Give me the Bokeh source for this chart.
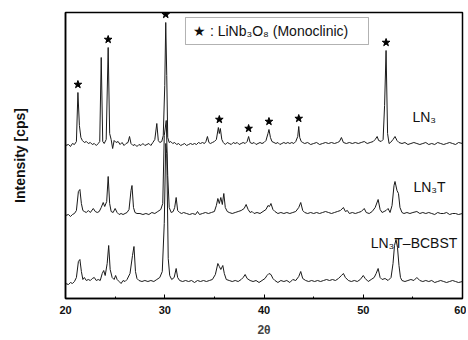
from bokeh.plotting import figure
from bokeh.models import Label, BoxAnnotation, FixedTicker
from bokeh.embed import file_html
from bokeh.resources import INLINE

# --- data: (2theta, intensity above own baseline) ---
ln3 = [(20.0,0),(20.3,1),(20.5,-1),(20.7,2),(20.9,1),(21.1,4),(21.25,53),(21.4,20),(21.55,8),(21.7,5),
       (21.9,3),(22.1,4),(22.3,2),(22.5,3),(22.7,1),(22.9,2),(23.1,0),(23.3,2),(23.45,4),(23.6,88),
       (23.75,4),(23.9,2),(24.1,6),(24.3,98),(24.45,12),(24.6,6),(24.75,-3),(24.9,5),(25.1,3),(25.3,4),
       (25.5,1),(25.7,3),(25.9,0),(26.1,2),(26.3,3),(26.45,9),(26.6,2),(26.8,0),(27.0,1),(27.2,-1),
       (27.4,1),(27.6,0),(27.8,2),(28.0,0),(28.2,1),(28.4,2),(28.6,0),(28.8,3),(29.0,6),(29.2,22),
       (29.35,5),(29.5,3),(29.7,4),(29.85,10),(30.0,60),(30.1,123),(30.2,70),(30.3,8),(30.45,3),(30.6,4),
       (30.8,2),(31.0,3),(31.2,1),(31.4,2),(31.6,0),(31.8,1),(32.0,2),(32.2,0),(32.4,1),(32.6,2),
       (32.8,1),(33.0,2),(33.2,1),(33.4,3),(33.6,2),(33.8,3),(34.0,2),(34.15,4),(34.3,9),(34.45,3),
       (34.6,2),(34.8,3),(35.0,4),(35.2,6),(35.4,18),(35.5,12),(35.6,17),(35.75,6),(35.9,3),(36.1,1),
       (36.3,3),(36.5,2),(36.7,1),(36.9,3),(37.1,2),(37.3,3),(37.5,1),(37.7,2),(37.9,3),(38.1,2),
       (38.3,4),(38.45,9),(38.6,3),(38.8,2),(39.0,3),(39.2,1),(39.4,2),(39.6,3),(39.8,2),(40.0,3),
       (40.2,5),(40.4,12),(40.5,16),(40.65,8),(40.8,4),(41.0,3),(41.2,2),(41.4,3),(41.6,1),(41.8,2),
       (42.0,3),(42.2,2),(42.4,3),(42.6,2),(42.8,3),(43.0,2),(43.2,4),(43.4,9),(43.5,19),(43.6,8),
       (43.75,4),(43.9,3),(44.1,2),(44.4,3),(44.7,1),(45.0,2),(45.3,3),(45.6,1),(45.9,2),(46.2,3),
       (46.5,2),(46.8,3),(47.1,2),(47.4,3),(47.6,4),(47.8,8),(48.0,3),(48.3,2),(48.6,3),(48.9,2),
       (49.2,3),(49.5,2),(49.8,3),(50.1,4),(50.4,2),(50.7,3),(51.0,4),(51.2,6),(51.4,9),(51.55,5),
       (51.8,4),(52.0,6),(52.15,40),(52.3,95),(52.45,12),(52.6,2),(52.75,3),(53.0,6),(53.2,9),(53.4,5),
       (53.6,3),(53.9,2),(54.2,3),(54.5,1),(54.8,2),(55.1,3),(55.4,2),(55.7,1),(56.0,2),(56.3,3),
       (56.6,1),(56.9,2),(57.2,1),(57.5,3),(57.8,2),(58.1,1),(58.4,2),(58.7,3),(59.0,2),(59.3,1),
       (59.6,3),(60.0,2)]

ln3t = [(20.0,0),(20.3,1),(20.5,-1),(20.7,1),(20.9,2),(21.1,5),(21.3,24),(21.45,26),(21.6,12),(21.75,5),
        (21.9,4),(22.1,3),(22.3,5),(22.5,3),(22.8,7),(23.0,4),(23.2,3),(23.4,4),(23.6,8),(23.8,13),
        (23.95,9),(24.15,14),(24.3,39),(24.45,12),(24.6,4),(24.8,3),(25.0,7),(25.2,3),(25.4,1),(25.6,2),
        (25.8,1),(26.0,2),(26.2,3),(26.4,6),(26.6,25),(26.7,30),(26.85,8),(27.0,3),(27.2,2),(27.5,2),
        (27.8,1),(28.1,2),(28.4,1),(28.7,3),(29.0,2),(29.3,4),(29.6,6),(29.8,12),(29.95,80),(30.15,95),
        (30.3,40),(30.45,8),(30.65,3),(30.85,4),(31.0,8),(31.15,18),(31.3,5),(31.5,3),(31.7,2),(31.9,3),
        (32.2,2),(32.5,1),(32.8,2),(33.1,1),(33.3,4),(33.5,1),(33.8,2),(34.1,3),(34.4,2),(34.7,3),
        (35.0,4),(35.2,10),(35.35,17),(35.5,12),(35.65,18),(35.8,11),(35.95,22),(36.1,8),(36.3,4),(36.5,3),
        (36.8,2),(37.1,3),(37.4,4),(37.7,5),(38.0,7),(38.2,11),(38.4,6),(38.6,3),(38.8,4),(39.0,2),
        (39.3,3),(39.6,2),(39.9,4),(40.2,6),(40.4,10),(40.55,9),(40.7,12),(40.9,6),(41.1,4),(41.4,2),
        (41.7,3),(42.0,2),(42.3,3),(42.6,2),(42.9,3),(43.2,4),(43.5,8),(43.7,13),(43.9,5),(44.1,3),
        (44.4,2),(44.7,3),(45.0,2),(45.3,3),(45.6,2),(45.9,3),(46.2,4),(46.5,3),(46.8,2),(47.1,3),
        (47.4,4),(47.7,5),(48.0,8),(48.2,4),(48.4,5),(48.6,2),(48.9,3),(49.2,2),(49.5,3),(49.8,4),
        (50.1,7),(50.3,3),(50.6,2),(50.9,4),(51.2,8),(51.5,16),(51.7,6),(51.9,3),(52.1,4),(52.3,5),
        (52.5,7),(52.7,3),(52.9,10),(53.1,30),(53.2,34),(53.4,25),(53.55,22),(53.7,8),(53.9,3),(54.1,2),
        (54.4,3),(54.7,2),(55.0,3),(55.4,4),(55.7,2),(56.0,3),(56.3,2),(56.6,3),(56.9,2),(57.2,1),
        (57.5,3),(57.8,2),(58.1,2),(58.4,3),(58.7,1),(59.0,2),(59.3,2),(59.6,1),(60.0,2)]

ln3t_bcbst = [(20.0,0),(20.3,-1),(20.5,1),(20.7,0),(20.9,2),(21.1,6),(21.3,22),(21.45,24),(21.6,12),(21.75,4),
              (21.9,6),(22.1,3),(22.3,4),(22.5,3),(22.7,5),(22.9,6),(23.1,3),(23.3,4),(23.5,3),(23.7,10),
              (23.85,13),(24.0,8),(24.2,20),(24.35,38),(24.5,14),(24.7,6),(24.9,4),(25.05,8),(25.2,4),(25.4,2),
              (25.6,0),(25.8,3),(26.0,2),(26.2,4),(26.5,10),(26.75,28),(26.9,37),(27.05,12),(27.2,5),(27.4,3),
              (27.7,2),(28.0,3),(28.3,2),(28.6,3),(28.9,2),(29.2,4),(29.5,6),(29.75,12),(29.95,60),(30.1,140),
              (30.2,130),(30.35,25),(30.5,8),(30.7,4),(30.95,6),(31.15,15),(31.3,6),(31.5,3),(31.8,2),(32.1,3),
              (32.4,2),(32.7,3),(33.0,1),(33.3,3),(33.6,2),(33.9,3),(34.2,2),(34.5,3),(34.8,4),(35.1,9),
              (35.35,20),(35.5,17),(35.65,14),(35.85,18),(36.0,10),(36.2,4),(36.5,3),(36.8,2),(37.1,3),(37.4,2),
              (37.7,4),(37.9,6),(38.1,9),(38.3,5),(38.6,3),(38.9,2),(39.2,3),(39.5,1),(39.8,3),(40.1,5),
              (40.3,8),(40.5,10),(40.7,9),(40.9,5),(41.1,3),(41.4,1),(41.7,3),(42.0,2),(42.3,3),(42.6,1),
              (42.9,4),(43.2,3),(43.5,7),(43.7,12),(43.9,5),(44.2,3),(44.5,2),(44.8,3),(45.1,2),(45.4,3),
              (45.7,2),(46.0,3),(46.3,4),(46.6,3),(46.9,4),(47.2,3),(47.5,5),(47.8,8),(48.0,10),(48.2,6),
              (48.5,3),(48.8,2),(49.1,3),(49.4,2),(49.7,4),(50.0,8),(50.2,5),(50.5,2),(50.8,4),(51.1,6),
              (51.3,10),(51.5,15),(51.7,6),(51.9,4),(52.2,5),(52.5,3),(52.8,6),(53.0,20),(53.15,38),(53.3,44),
              (53.45,36),(53.6,18),(53.75,6),(53.9,3),(54.2,2),(54.5,3),(54.8,4),(55.1,3),(55.4,6),(55.7,3),
              (56.0,2),(56.3,3),(56.6,2),(56.9,3),(57.2,1),(57.5,2),(57.8,3),(58.1,2),(58.4,1),(58.7,2),
              (59.0,3),(59.3,2),(59.6,1),(60.0,2)]

series_names = ["LN₃", "LN₃T", "LN₃T–BCBST"]
series_offsets = [153, 83, 15]
star_positions = [21.25, 24.3, 30.1, 35.5, 38.45, 40.5, 43.5, 52.3]  # LiNb3O8 peaks
x_ticks = [20, 30, 40, 50, 60]

FONT = "Liberation Sans"

p = figure(frame_width=397, frame_height=286, x_range=(20, 60), y_range=(0, 286),
           min_border_left=65, min_border_right=4, min_border_top=12, min_border_bottom=40,
           output_backend="svg", toolbar_location=None, tools="")
p.grid.visible = False
p.outline_line_color = "black"
p.outline_line_width = 1.5
p.background_fill_color = "white"
p.border_fill_color = "white"

xa = p.xaxis[0]
xa.ticker = FixedTicker(ticks=x_ticks, minor_ticks=[25, 35, 45, 55])
xa.major_tick_in = 4
xa.major_tick_out = 0
xa.minor_tick_in = 2
xa.minor_tick_out = 0
xa.axis_line_color = "black"
xa.axis_line_width = 1.5
xa.major_label_text_font = FONT
xa.major_label_text_font_size = "11px"
xa.major_label_text_font_style = "bold"
xa.major_label_text_color = "#111"
xa.major_label_standoff = 7
xa.axis_label = "2θ"
xa.axis_label_text_font = FONT
xa.axis_label_text_font_size = "12px"
xa.axis_label_text_font_style = "bold"
xa.axis_label_standoff = 6

ya = p.yaxis[0]
ya.ticker = FixedTicker(ticks=[])
ya.major_tick_out = 0
ya.major_tick_in = 0
ya.minor_tick_out = 0
ya.minor_tick_in = 0
ya.axis_line_color = "black"
ya.axis_line_width = 1.5
ya.axis_label = "Intensity [cps]"
ya.axis_label_text_font = FONT
ya.axis_label_text_font_size = "14px"
ya.axis_label_text_font_style = "bold"
ya.axis_label_text_color = "#111"
ya.axis_label_standoff = 38

datasets = [ln3, ln3t, ln3t_bcbst]
for data, off in zip(datasets, series_offsets):
    xs = [d[0] for d in data]
    ys = [d[1] + off for d in data]
    p.line(xs, ys, line_color="#1a1a1a", line_width=1)

# stars above LiNb3O8 peaks of LN3
sx, sy = [], []
for t in star_positions:
    peak = max(v for (tt, v) in ln3 if abs(tt - t) <= 0.2)
    sx.append(t)
    sy.append(peak + series_offsets[0] + 8)
p.scatter(sx, sy, marker="star", size=8, fill_color="black", line_color="black")

# series labels
label_pos = [(54.95, 182), (55.06, 112), (50.75, 56)]
for name, (lx, ly) in zip(series_names, label_pos):
    p.add_layout(Label(x=lx, y=ly, text=name, text_font=FONT, text_font_size="14px",
                       text_color="#111", text_align="left", text_baseline="alphabetic"))

# legend box
p.add_layout(BoxAnnotation(left=32.09, right=50.53, bottom=254, top=281,
                           fill_color="white", fill_alpha=1, line_color="black", line_width=1))
p.add_layout(Label(x=32.85, y=267.5, text="★ : LiNb₃O₈  (Monoclinic)", text_font=FONT,
                   text_font_size="14px", text_color="#111", text_align="left", text_baseline="middle"))

open("out.html", "w").write(file_html(p, INLINE))
